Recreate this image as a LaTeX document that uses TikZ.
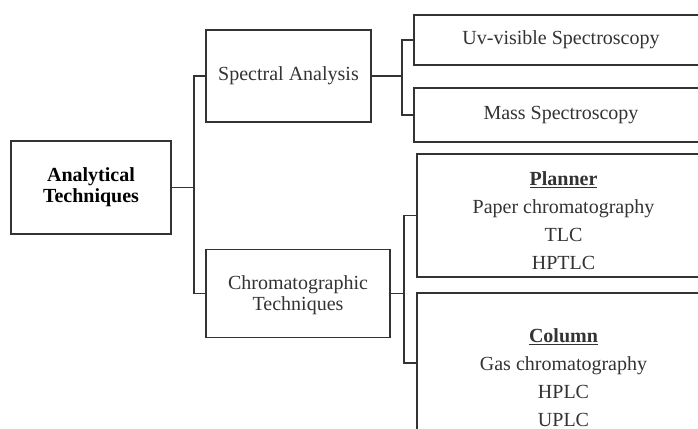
\documentclass[tikz,border=0pt]{standalone}
\usepackage{fontspec}
\setmainfont{Liberation Serif}

\tikzset{
  box/.style={draw=black!80, line width=1.6pt, fill=white, align=center,
    inner sep=0pt, text=black!80, font=\fontsize{20}{21}\selectfont},
  list/.style={box, font=\fontsize{20}{28}\selectfont},
  link/.style={draw=black!80, line width=1.4pt}
}

\begin{document}
\begin{tikzpicture}[x=1pt, y=-1pt]

\useasboundingbox (0,0) rectangle (698,428);
\clip (0,0) rectangle (698,428);

\node[box, minimum width=160pt, minimum height=93pt, text=black,
  font=\fontsize{20}{21}\selectfont\bfseries] (tech) at (91,187.5) {Analytical\\Techniques};

\node[box, minimum width=165pt, minimum height=92pt] (spec) at (288.5,76) {Spectral Analysis};
\node[box, minimum width=184pt, minimum height=88pt] (chrom) at (298,293.5) {\rule{0pt}{18pt}Chromatographic\\Techniques};

\node[box, minimum width=294pt, minimum height=50pt] (uv) at (561,40) {Uv-visible Spectroscopy};
\node[box, minimum width=294pt, minimum height=54pt] (mass) at (561,115) {Mass Spectroscopy};

\node[list, minimum width=293pt, minimum height=123pt] (plan) at (563.5,215.5)
  {\rule{0pt}{25pt}\textbf{\underline{Planner}}\\Paper chromatography\\TLC\\HPTLC};
\node[list, minimum width=293pt, minimum height=140pt] (col) at (563.5,363)
  {\rule{0pt}{16pt}\\\textbf{\underline{Column}}\\Gas chromatography\\HPLC\\UPLC};

% joints
\coordinate (j1) at ([xshift=22pt]tech.east);
\coordinate (j2) at ([xshift=30pt]spec.east);
\coordinate (j3) at ([xshift=13pt]chrom.east);

\draw[link] (tech.east) -- (j1);
\draw[link] (spec.west) -| (j1) |- (chrom.west);

\draw[link] (spec.east) -- (j2);
\draw[link] (uv.west) -| (j2) |- (mass.west);

\draw[link] (chrom.east) -- (j3);
\draw[link] (plan.west) -| (j3) |- (col.west);

\end{tikzpicture}
\end{document}
